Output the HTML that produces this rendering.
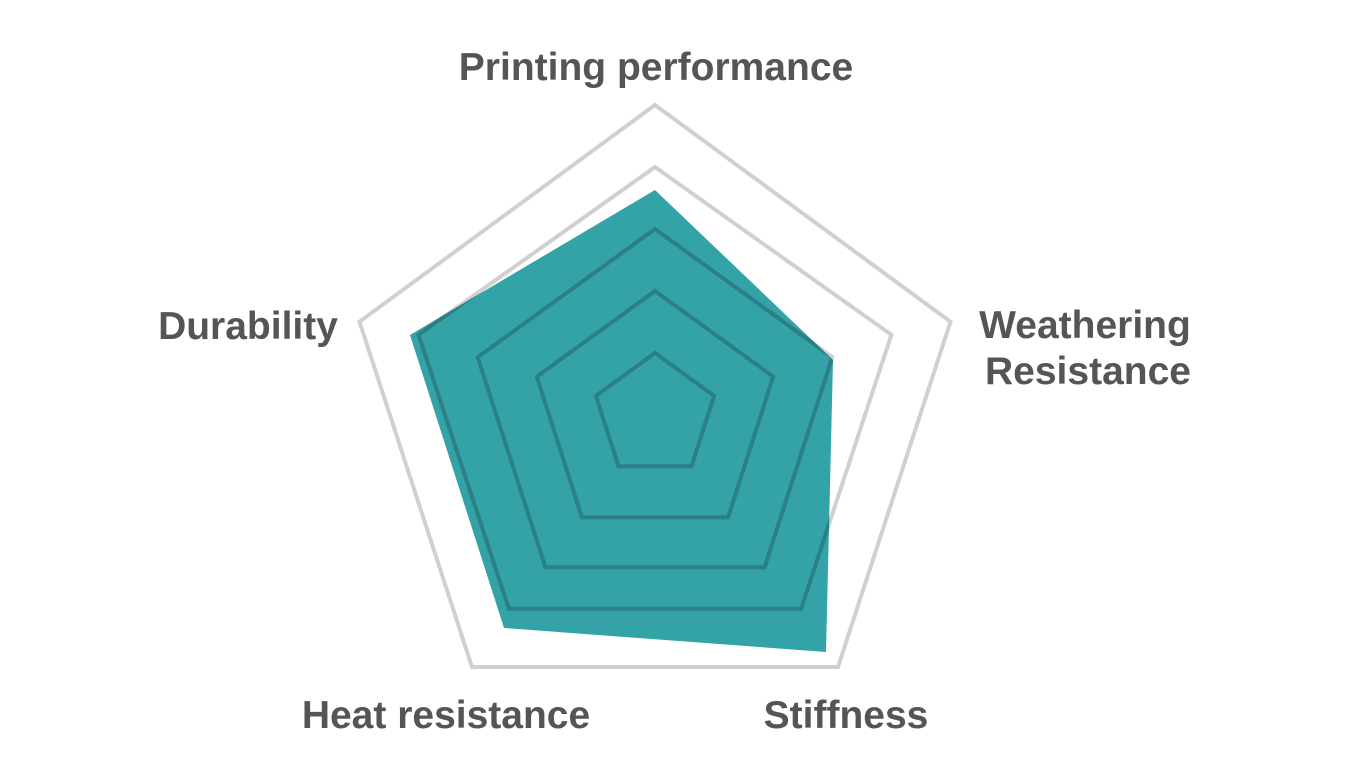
<!DOCTYPE html>
<html><head><meta charset="utf-8"><style>
html,body{margin:0;padding:0;background:#fff;}
svg{display:block;}
text{font-family:"Liberation Sans",sans-serif;font-weight:bold;fill:#555;font-size:39px;}
</style></head><body>
<svg width="1350" height="775" viewBox="0 0 1350 775">
<defs>
<clipPath id="c"><polygon points="655,190 833,360 826,652 504,628 410,335"/></clipPath>
<g id="rings" fill="none" stroke-width="4" stroke-linejoin="miter">
<polygon points="655,105 950.5,321.7 838,667 472,667 359.5,321.7"/>
<polygon points="655,167 891.4,334.8 801.1,608.8 508.9,608.8 418.6,334.8"/>
<polygon points="655,229 832.3,357.2 764.6,567.2 545.4,567.2 477.7,357.2"/>
<polygon points="655,291 773.2,376.6 728.1,517.4 581.9,517.4 536.8,376.6"/>
<polygon points="655,353 714.1,395.9 691.5,466.2 618.5,466.2 595.9,395.9"/>
</g>
</defs>
<use href="#rings" stroke="#d0d0d0"/>
<polygon points="655,190 833,360 826,652 504,628 410,335" fill="#33a3a8"/>
<g clip-path="url(#c)"><use href="#rings" stroke="#2a8085"/></g>
<text x="656" y="80" text-anchor="middle">Printing performance</text>
<text x="1085" y="338" text-anchor="middle">Weathering</text>
<text x="1088" y="384" text-anchor="middle">Resistance</text>
<text x="248" y="339" text-anchor="middle">Durability</text>
<text x="446" y="728" text-anchor="middle">Heat resistance</text>
<text x="846" y="728" text-anchor="middle">Stiffness</text>
</svg>
</body></html>
